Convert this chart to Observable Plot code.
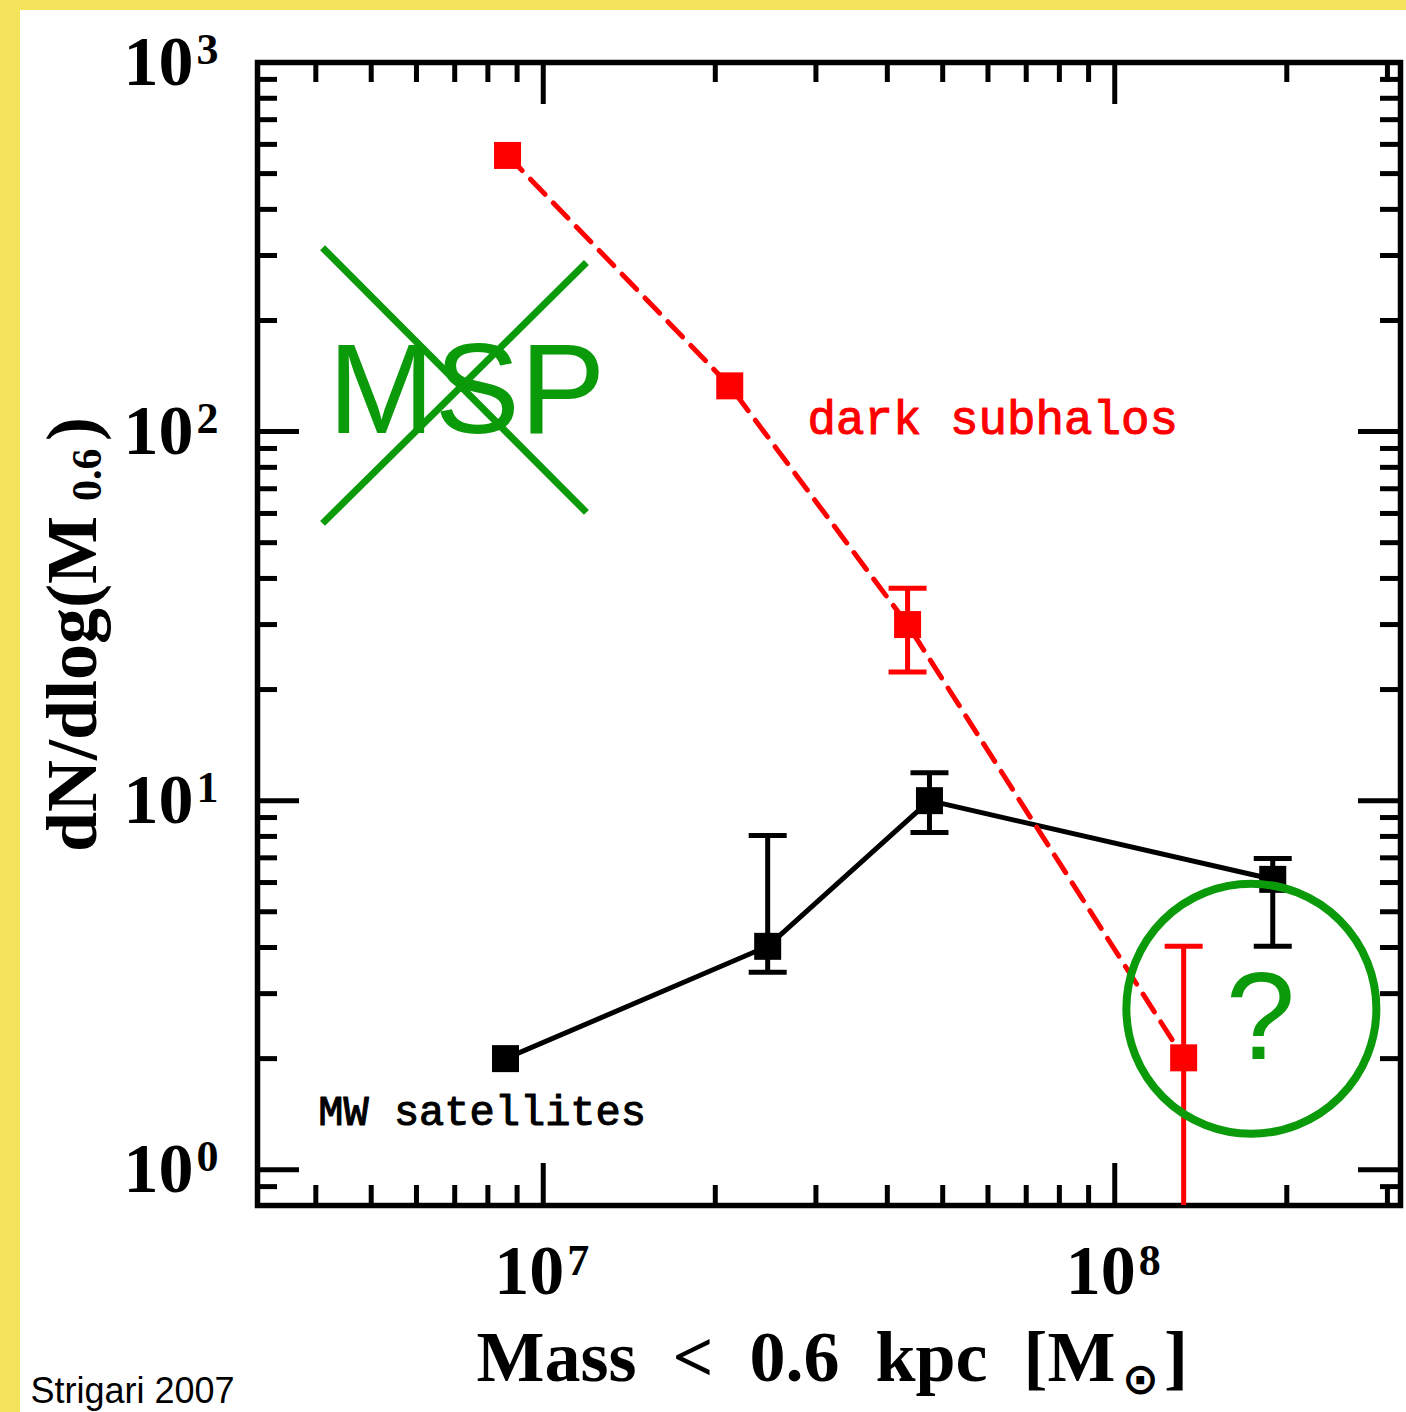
<!DOCTYPE html>
<html>
<head>
<meta charset="utf-8">
<script src="https://cdn.jsdelivr.net/npm/d3@7"></script>
<script src="https://cdn.jsdelivr.net/npm/@observablehq/plot@0.6"></script>
<style>
html, body { margin: 0; padding: 0; background: #ffffff; }
#wrap { width: 1386px; height: 1402px; border-left: 20px solid #F4E45B; border-top: 10px solid #F4E45B; background: #ffffff; }
#wrap svg { display: block; }
</style>
</head>
<body>
<div id="wrap"></div>
<script>
// ---- data ----
const massRed   = [8.66e6, 2.12e7, 4.34e7, 1.32e8];
const countRed  = [560, 133, 30.0, 2.01];
const redErrLo  = [null, null, 22.3, 0.8];
const redErrHi  = [null, null, 37.6, 4.03];

const massBlack  = [8.59e6, 2.47e7, 4.74e7, 1.89e8];
const countBlack = [2.0, 4.03, 10.0, 6.12];
const blackErrLo = [null, 3.43, 8.2, 4.03];
const blackErrHi = [null, 8.05, 11.9, 6.97];

const xMajorTicks = [1e7, 1e8];
const xMinorTicks = [4e6, 5e6, 6e6, 7e6, 8e6, 9e6, 2e7, 3e7, 4e7, 5e7, 6e7, 7e7, 8e7, 9e7, 2e8, 3e8];
const yMajorTicks = [1, 10, 100, 1000];
const yMinorTicks = [0.9, 2, 3, 4, 5, 6, 7, 8, 9, 20, 30, 40, 50, 60, 70, 80, 90, 200, 300, 400, 500, 600, 700, 800, 900];

const seriesLabels = ["dark subhalos", "MW satellites"];
const labelMass  = [2.90e7, 4.04e6];
const labelCount = [98.5, 1.32];

// annotation ("MSP" crossed out, "?" circled)
const mspText = ["MSP"];
const mspMass = [4.20e6];
const mspCount = [99.4];
const crossX1 = [4.11e6, 4.11e6];
const crossY1 = [315, 56.4];
const crossX2 = [1.19e7, 1.19e7];
const crossY2 = [60.4, 287];
const circleMass = [1.734e8];
const circleCount = [2.73];
const questionMass = [1.80e8];
const questionCount = [2.0];

const xTitle = "Mass\u2002<\u20020.6\u2002kpc\u2002[M";
const yTitle = "dN/dlog(M";
const credit = "Strigari 2007";

// ---- build tables ----
const redRows = massRed.map((m, i) => ({mass: m, count: countRed[i], lo: redErrLo[i], hi: redErrHi[i]}));
const blackRows = massBlack.map((m, i) => ({mass: m, count: countBlack[i], lo: blackErrLo[i], hi: blackErrHi[i]}));
const redErr = redRows.filter(d => d.lo != null);
const blackErr = blackRows.filter(d => d.lo != null);
const labels = seriesLabels.map((t, i) => ({text: t, mass: labelMass[i], count: labelCount[i]}));
const cross = crossX1.map((x, i) => ({x1: x, y1: crossY1[i], x2: crossX2[i], y2: crossY2[i]}));

const RED = "#ff0000", GREEN = "#0a9a0a", BLACK = "#000000";
const W = 1386, H = 1402, ML = 237, MT = 52, MR = 6, MB = 207;
const innerW = W - ML - MR, innerH = H - MT - MB;
const minorLen = 20, majorLen = 42;
const SERIF = "'Liberation Serif', 'DejaVu Serif', serif";
const MONO = "'Liberation Mono', 'DejaVu Sans Mono', monospace";
const SANS = "'Liberation Sans', Arial, sans-serif";

const capSymbol = {
  draw(ctx, size) {
    const w = Math.sqrt(size);
    ctx.moveTo(-w / 2, 0);
    ctx.lineTo(w / 2, 0);
  }
};
const capR = 38 / Math.sqrt(Math.PI);
const sqR = 27 / Math.sqrt(Math.PI);

const chart = Plot.plot({
  width: W, height: H,
  marginLeft: ML, marginTop: MT, marginRight: MR, marginBottom: MB,
  x: {type: "log", domain: [Math.pow(10, 6.5), Math.pow(10, 8.5)], axis: null},
  y: {type: "log", domain: [0.8, 1000], axis: null},
  style: {background: "transparent", overflow: "visible"},
  marks: [
    // ticks (inward, all four sides)
    Plot.tickX(xMinorTicks, {x: d => d, insetTop: innerH - minorLen, strokeWidth: 5}),
    Plot.tickX(xMajorTicks, {x: d => d, insetTop: innerH - majorLen, strokeWidth: 5}),
    Plot.tickX(xMinorTicks, {x: d => d, insetBottom: innerH - minorLen, strokeWidth: 5}),
    Plot.tickX(xMajorTicks, {x: d => d, insetBottom: innerH - majorLen, strokeWidth: 5}),
    Plot.tickY(yMinorTicks, {y: d => d, insetRight: innerW - minorLen, strokeWidth: 5}),
    Plot.tickY(yMajorTicks, {y: d => d, insetRight: innerW - majorLen, strokeWidth: 5}),
    Plot.tickY(yMinorTicks, {y: d => d, insetLeft: innerW - minorLen, strokeWidth: 5}),
    Plot.tickY(yMajorTicks, {y: d => d, insetLeft: innerW - majorLen, strokeWidth: 5}),
    Plot.frame({stroke: BLACK, strokeWidth: 5.5}),

    // tick labels
    Plot.text(xMajorTicks, {x: d => d, frameAnchor: "bottom", text: () => "10", textAnchor: "end", lineAnchor: "bottom",
      dx: 21, dy: 88, fontSize: 70, fontWeight: "bold", fontFamily: SERIF}),
    Plot.text(xMajorTicks, {x: d => d, frameAnchor: "bottom", text: d => String(Math.round(Math.log10(d))), textAnchor: "start", lineAnchor: "top",
      dx: 24, dy: 38, fontSize: 44, fontWeight: "bold", fontFamily: SERIF}),
    Plot.text(yMajorTicks, {y: d => d, frameAnchor: "left", text: () => "10", textAnchor: "end", lineAnchor: "middle",
      dx: -64, dy: 0, fontSize: 70, fontWeight: "bold", fontFamily: SERIF}),
    Plot.text(yMajorTicks, {y: d => d, frameAnchor: "left", text: d => String(Math.round(Math.log10(d))), textAnchor: "start", lineAnchor: "top",
      dx: -61, dy: -30, fontSize: 44, fontWeight: "bold", fontFamily: SERIF}),

    // axis titles
    Plot.text([xTitle], {frameAnchor: "bottom", text: d => d, textAnchor: "start", lineAnchor: "bottom",
      dx: -352.5, dy: 175, fontSize: 72, fontWeight: "bold", fontFamily: SERIF}),
    Plot.text(["\u2299"], {frameAnchor: "bottom", text: d => d, textAnchor: "start", lineAnchor: "bottom",
      dx: 293, dy: 188, fontSize: 44, fontWeight: "bold", fontFamily: "'DejaVu Sans', sans-serif"}),
    Plot.text(["]"], {frameAnchor: "bottom", text: d => d, textAnchor: "start", lineAnchor: "bottom",
      dx: 335, dy: 175, fontSize: 72, fontWeight: "bold", fontFamily: SERIF}),
    Plot.text([yTitle], {frameAnchor: "left", text: d => d, rotate: -90, textAnchor: "start", lineAnchor: "bottom",
      dx: -162, dy: 218, fontSize: 72, fontWeight: "bold", fontFamily: SERIF}),
    Plot.text(["0.6"], {frameAnchor: "left", text: d => d, rotate: -90, textAnchor: "start", lineAnchor: "bottom",
      dx: -157, dy: -133, fontSize: 42, fontWeight: "bold", fontFamily: SERIF}),
    Plot.text([")"], {frameAnchor: "left", text: d => d, rotate: -90, textAnchor: "start", lineAnchor: "bottom",
      dx: -162, dy: -193, fontSize: 72, fontWeight: "bold", fontFamily: SERIF}),

    // MW satellites (black)
    Plot.line(blackRows, {x: "mass", y: "count", stroke: BLACK, strokeWidth: 5}),
    Plot.ruleX(blackErr, {x: "mass", y1: "lo", y2: "hi", stroke: BLACK, strokeWidth: 5}),
    Plot.dot(blackErr, {x: "mass", y: "lo", symbol: capSymbol, r: capR, fill: "none", stroke: BLACK, strokeWidth: 5}),
    Plot.dot(blackErr, {x: "mass", y: "hi", symbol: capSymbol, r: capR, fill: "none", stroke: BLACK, strokeWidth: 5}),
    Plot.dot(blackRows, {x: "mass", y: "count", symbol: "square", r: sqR, fill: BLACK, stroke: null}),

    // dark subhalos (red)
    Plot.line(redRows, {x: "mass", y: "count", stroke: RED, strokeWidth: 5, strokeDasharray: "21,12"}),
    Plot.ruleX(redErr, {x: "mass", y1: "lo", y2: "hi", stroke: RED, strokeWidth: 5}),
    Plot.dot(redErr.filter(d => d.lo > 0.8), {x: "mass", y: "lo", symbol: capSymbol, r: capR, fill: "none", stroke: RED, strokeWidth: 5}),
    Plot.dot(redErr, {x: "mass", y: "hi", symbol: capSymbol, r: capR, fill: "none", stroke: RED, strokeWidth: 5}),
    Plot.dot(redRows, {x: "mass", y: "count", symbol: "square", r: sqR, fill: RED, stroke: null}),

    // series labels
    Plot.text(labels, {x: "mass", y: "count", text: "text", textAnchor: "start", lineAnchor: "bottom",
      fill: (d, i) => i === 0 ? RED : BLACK, stroke: (d, i) => i === 0 ? RED : BLACK, strokeWidth: 1.1,
      fontSize: (d, i) => i === 0 ? 47.5 : 42, fontFamily: MONO}),

    // annotations
    Plot.text(mspText, {x: () => mspMass[0], y: () => mspCount[0], text: d => d, textAnchor: "start", lineAnchor: "bottom",
      fill: GREEN, fontSize: 128, fontFamily: SANS}),
    Plot.link(cross, {x1: "x1", y1: "y1", x2: "x2", y2: "y2", stroke: GREEN, strokeWidth: 7}),
    Plot.dot(circleMass, {x: d => d, y: (d, i) => circleCount[i], r: 125, fill: "none", stroke: GREEN, strokeWidth: 8}),
    Plot.text(questionMass, {x: d => d, y: (d, i) => questionCount[i], text: () => "?", textAnchor: "middle", lineAnchor: "bottom",
      fill: GREEN, fontSize: 125, fontFamily: SANS}),

    // credit
    Plot.text([credit], {frameAnchor: "bottom-left", text: d => d, textAnchor: "start", lineAnchor: "bottom",
      dx: -227, dy: 197, fontSize: 36, fontFamily: SANS})
  ]
});
document.getElementById("wrap").appendChild(chart);
</script>
</body>
</html>
